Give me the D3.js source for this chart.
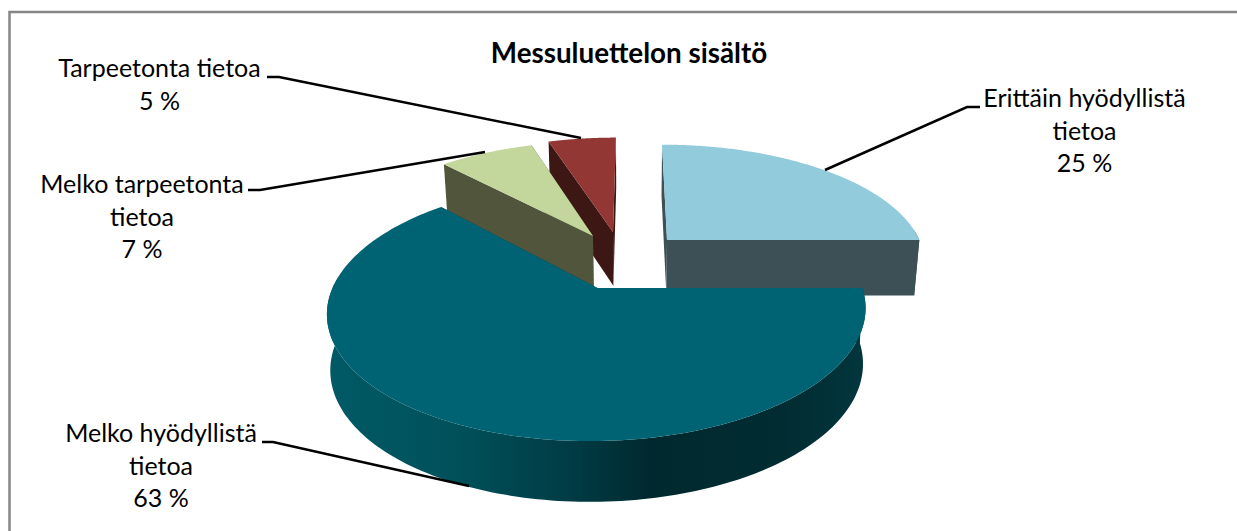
<!DOCTYPE html>
<html><head><meta charset="utf-8"><script src="https://cdn.jsdelivr.net/npm/d3@7"></script>
<style>html,body{margin:0;padding:0;background:#fff}svg{display:block}text{font-family:Lato,"Open Sans",sans-serif;fill:#000}</style></head>
<body><svg id="c" width="1237" height="531"></svg>
<script>
const chartTitle = "Messuluettelon sisältö";
const categories = ["Erittäin hyödyllistä tietoa","Melko hyödyllistä tietoa","Melko tarpeetonta tietoa","Tarpeetonta tietoa"];
const values = [25,63,7,5];
const topColors = ["#92cbdc","#006373","#c3d69b","#933735"];
const sideColors = ["#3c5056","#003f46","#50553c","#3d1714"];
// model-space explosion per slice (u right, v toward viewer)
const explodeU = [0.1368,-0.1334,-0.162,-0.0814];
const explodeV = [-0.0807,0.326,-0.1173,-0.1544];
const radii = [1.015,0.993,1.02,1.03];
const depths = [56,53.5,54.5,54.5];
const wallScale = [0.982,0.989,0.982,0.982];
const labelLines = [["Erittäin hyödyllistä","tietoa","25 %"],["Melko hyödyllistä","tietoa","63 %"],["Melko tarpeetonta","tietoa","7 %"],["Tarpeetonta tietoa","5 %"]];
const labelX = [1084.5,161,142,159.5];
const labelY = [107,442,193,77];
const leaders = [[[980,107],[967,107],[825,170]],[[262,442],[273,442],[469,486]],[[248,190],[260,190],[485,152]],[[267,77],[279,77],[581,138]]];
const drawOrder = [3,2,0,1];

const A=252,B=113,P=0.17,CX=633,CY=249;
const svg=d3.select("#c");
const defs=svg.append("defs");
const grad=defs.append("linearGradient").attr("id","wall").attr("gradientUnits","userSpaceOnUse").attr("x1",327).attr("x2",865).attr("y1",0).attr("y2",0);
[[0,"#005a66"],[0.25,"#005059"],[0.45,"#003c45"],[0.6,"#00292f"],[0.85,"#012c32"],[1,"#02363d"]].forEach(s=>grad.append("stop").attr("offset",s[0]).attr("stop-color",s[1]));

svg.append("rect").attr("x",9.5).attr("y",12).attr("width",1300).attr("height",600).attr("fill","#fff").attr("stroke","#868686").attr("stroke-width",2.5);

const pie=d3.pie().sort(null).value(d=>d)(values);
const project=(u,v)=>{const w=1-P*v;return{x:CX+A*u/w,y:CY+B*v/w,w};};
const line=d3.line().x(d=>d.x).y(d=>d.y);

function wallPath(pts,d,xs){
  const bottom=p=>({x:CX+(p.x-CX)*xs,y:p.y+d/Math.sqrt(p.w)});
  return line(pts.concat(pts.slice().reverse().map(bottom)))+"Z";
}
drawOrder.forEach(i=>{
  const s=pie[i],u0=explodeU[i],v0=explodeV[i],r=radii[i];
  const apex=project(u0,v0);
  const angles=d3.range(0,181).map(k=>s.startAngle+(s.endAngle-s.startAngle)*k/180);
  const rim=t=>project(u0+r*Math.sin(t),v0-r*Math.cos(t));
  const arc=angles.map(rim);
  const g=svg.append("g");
  // two radial cut faces
  [[apex,arc[0]],[apex,arc[arc.length-1]]].forEach(f=>g.append("path").attr("d",wallPath(f,depths[i],wallScale[i])).attr("fill",sideColors[i]));
  // outer rim, front-facing part only
  const front=angles.filter(t=>Math.cos(t)<0.1).map(rim);
  if(front.length) g.append("path").attr("d",wallPath(front,depths[i],wallScale[i])).attr("fill",i===1?"url(#wall)":sideColors[i]);
  g.append("path").attr("d",line([apex].concat(arc))+"Z").attr("fill",topColors[i]);
});

leaders.forEach(l=>svg.append("path").attr("d",d3.line()(l)).attr("fill","none").attr("stroke","#000").attr("stroke-width",2.5));

svg.append("text").attr("x",629).attr("y",63).attr("text-anchor","middle").attr("font-size",27.8).attr("font-weight",700).text(chartTitle);
labelLines.forEach((ls,i)=>{
  const t=svg.append("text").attr("text-anchor","middle").attr("font-size",25);
  ls.forEach((s,j)=>t.append("tspan").attr("x",labelX[i]).attr("y",labelY[i]+j*32.5).text(s));
});
</script></body></html>
